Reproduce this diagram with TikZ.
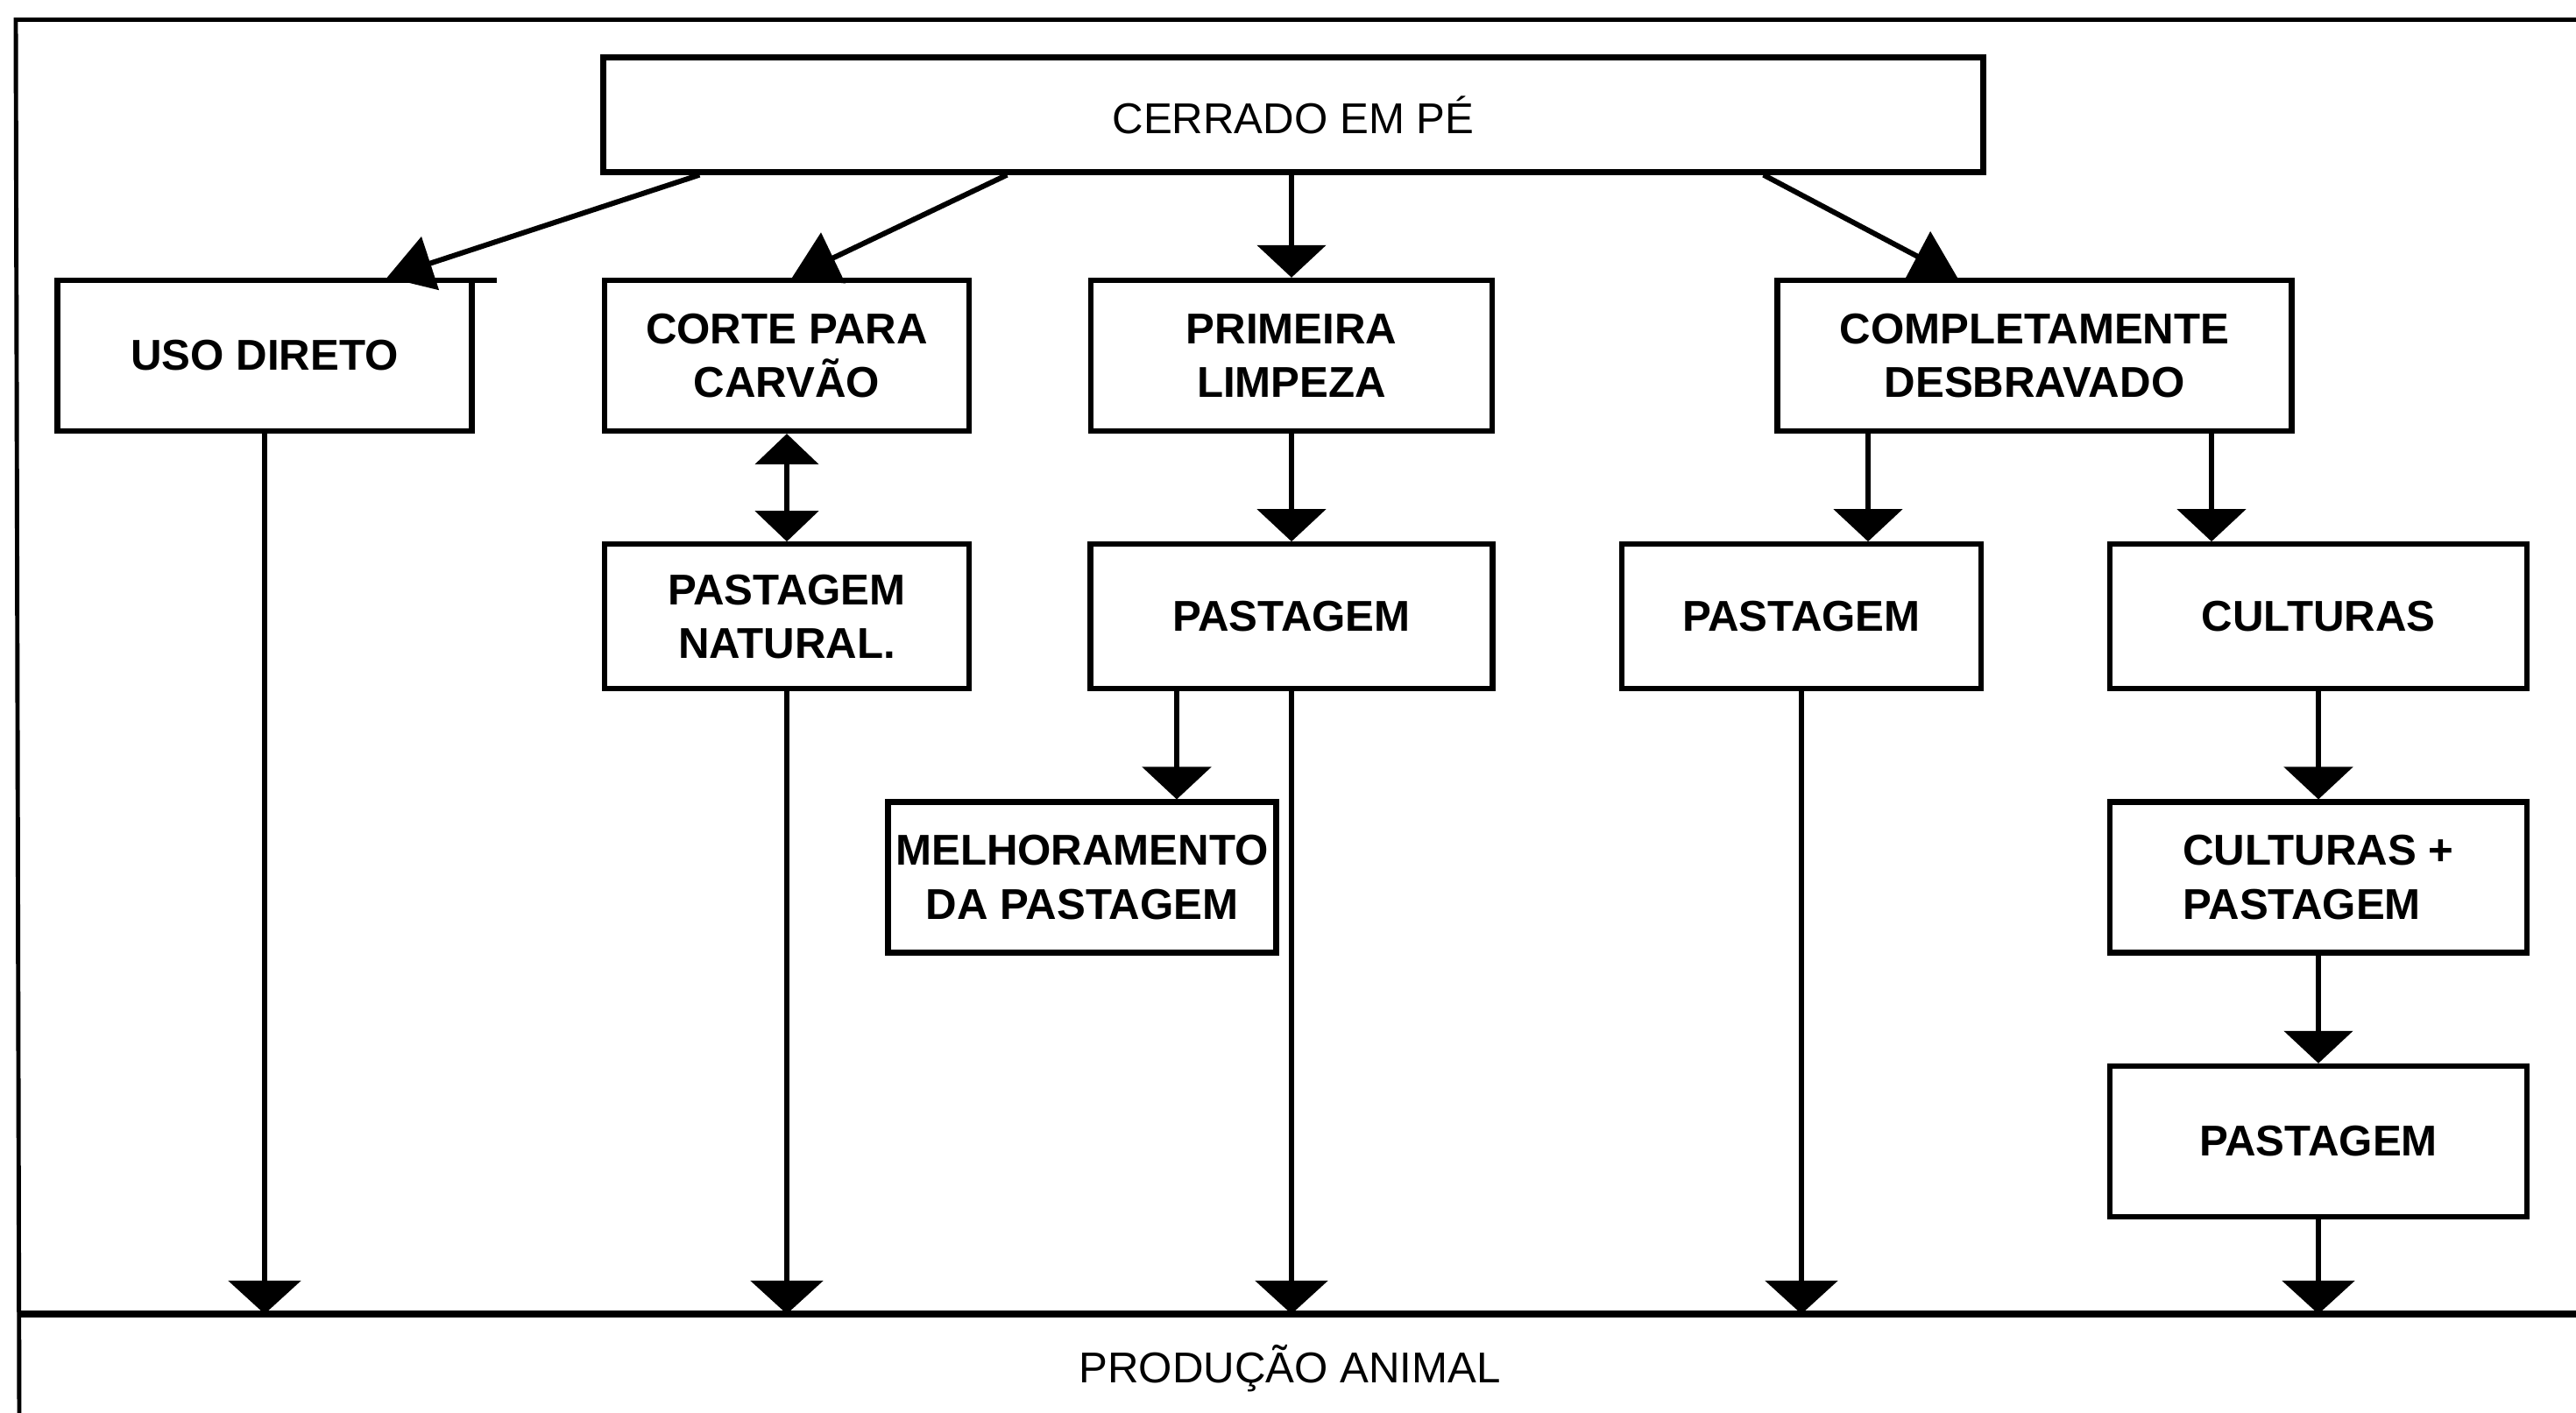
\documentclass[tikz,border=0pt]{standalone}
\usepackage{fontspec}
\setmainfont{Liberation Sans}
\usetikzlibrary{arrows.meta,positioning}

\begin{document}
\begin{tikzpicture}[
    node distance=1.23cm,
    box/.style={rectangle, draw, line width=1.8pt, align=center,
                minimum height=1.72cm, inner sep=2pt,
                font=\fontsize{14}{17.5}\selectfont\bfseries},
    headbox/.style={box, minimum width=15.75cm, minimum height=1.31cm,
                    font=\fontsize{14}{17.5}\selectfont},
    arr/.style={-{Triangle[length=3.7mm,width=7.8mm]}, line width=1.6pt},
    slant/.style={-{Triangle[length=5.2mm,width=6.3mm]}, line width=1.7pt},
    dblarr/.style={{Triangle[length=3.5mm,width=7.2mm]}-{Triangle[length=3.5mm,width=7.2mm]},
                   line width=1.6pt},
    frame/.style={line width=1.4pt},
]
\useasboundingbox (0,0) rectangle (29.4,16.13);

% Outer frame and bottom strip
\draw[frame] (29.4,15.905) -- (0.18,15.905) -- (0.22,0);
\coordinate (base) at (0.2,1.13);
\draw[line width=2.4pt] (0.2,1.13) -- (29.4,1.13);
\node[font=\fontsize{14}{17.5}\selectfont] (prod) at (14.72,0.51) {PRODUÇÃO ANIMAL};

% Top block
\node[headbox] (cerrado) at (14.76,14.82) {CERRADO EM PÉ};

% First level
\node[box, minimum width=4.73cm] (uso) at (3.02,12.07) {USO DIRETO};
\node[box, minimum width=4.16cm] (corte) at (8.98,12.07) {CORTE PARA\\CARVÃO};
\node[box, minimum width=4.58cm] (limpeza) at (14.74,12.07) {PRIMEIRA\\LIMPEZA};
\node[box, minimum width=5.87cm] (desbrav) at (23.22,12.07) {COMPLETAMENTE\\DESBRAVADO};
\draw[line width=1.8pt] ([xshift=-0.9pt,yshift=-0.9pt]uso.north east) -- ++(0.28,0);

% Second level
\node[box, minimum width=4.16cm, minimum height=1.65cm, below=of corte] (pastnat) {PASTAGEM\\NATURAL.};
\node[box, minimum width=4.59cm, minimum height=1.65cm, below=of limpeza] (pastlimp) {PASTAGEM};
\node[box, minimum width=4.10cm, minimum height=1.65cm, below=of desbrav, xshift=-2.66cm] (pastdesb) {PASTAGEM};
\node[box, minimum width=4.76cm, minimum height=1.65cm, below=of desbrav, xshift=3.24cm] (cult) {CULTURAS};

% Third level
\node[box, minimum width=4.43cm, below=of pastlimp, xshift=-2.39cm] (melhor) {MELHORAMENTO\\DA PASTAGEM};
\node[box, minimum width=4.76cm, align=left, below=of cult] (cultpast) {CULTURAS +\\PASTAGEM};
\node[box, minimum width=4.76cm, below=of cultpast] (pastfin) {PASTAGEM};

% Arrows from the top block
\draw[slant] ([xshift=1.13cm]cerrado.south west) -- ([xshift=-1.0cm]uso.north east);
\draw[slant] ([xshift=4.64cm]cerrado.south west) -- ([xshift=0.06cm]corte.north);
\draw[arr] (cerrado.south -| limpeza.north) -- (limpeza.north);
\draw[slant] ([xshift=-2.54cm]cerrado.south east) -- ([xshift=-0.88cm]desbrav.north);

% Arrows between levels
\draw[dblarr] (corte) -- (pastnat);
\draw[arr] (limpeza) -- (pastlimp);
\coordinate (m1) at ([xshift=-1.31cm]pastlimp.south);
\draw[arr] (m1) -- (m1 |- melhor.north);
\coordinate (d1) at ([xshift=-1.9cm]desbrav.south);
\coordinate (d2) at ([xshift=2.02cm]desbrav.south);
\draw[arr] (d1) -- (d1 |- pastdesb.north);
\draw[arr] (d2) -- (d2 |- cult.north);
\draw[arr] (cult) -- (cultpast);
\draw[arr] (cultpast) -- (pastfin);

% Down to animal production
\foreach \n in {uso,pastnat,pastlimp,pastdesb,pastfin}
    \draw[arr, -{Triangle[length=3.8mm,width=8.2mm]}] (\n) -- (\n |- base);

\end{tikzpicture}
\end{document}
